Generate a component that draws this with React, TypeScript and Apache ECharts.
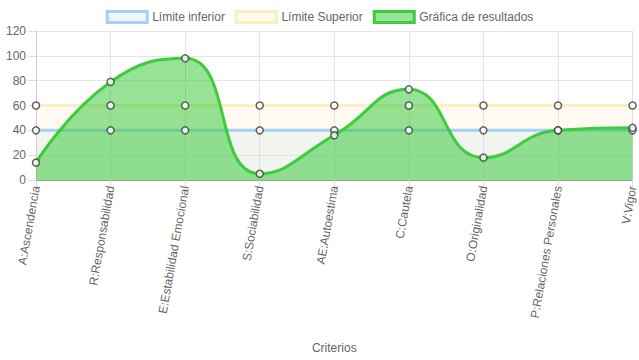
import React, { useEffect, useRef } from "react";
import * as echarts from "echarts";

const categories = [
  "A:Ascendencia",
  "R:Responsabilidad",
  "E:Estabilidad Emocional",
  "S:Sociabilidad",
  "AE:Autoestima",
  "C:Cautela",
  "O:Originalidad",
  "P:Relaciones Personales",
  "V:Vigor",
];
const lowerLimit = [40, 40, 40, 40, 40, 40, 40, 40, 40];
const upperLimit = [60, 60, 60, 60, 60, 60, 60, 60, 60];
const results = [14, 79, 98, 5, 36, 73, 18, 40, 42];
const seriesNames = ["Límite inferior", "Límite Superior", "Gráfica de resultados"];

const FONT = "'Liberation Sans', Arial, Helvetica, sans-serif";

export default function App() {
  const ref = useRef<HTMLDivElement>(null);
  useEffect(() => {
    if (!ref.current) return;
    const chart = echarts.init(ref.current, undefined, { renderer: "svg" });
    const pointStyle = {
      color: "#ffffff",
      borderColor: "#3a3a3a",
      borderWidth: 1.5,
    };
    const scatter = (data: number[]) => ({
      type: "scatter",
      data,
      symbol: "circle",
      symbolSize: 7,
      itemStyle: pointStyle,
      z: 10,
      silent: true,
      legendHoverLink: false,
    });
    chart.setOption({
      animation: false,
      textStyle: { fontFamily: FONT },
      legend: {
        top: 5,
        left: "center",
        itemWidth: 40,
        itemHeight: 11,
        itemGap: 10,
        icon: "rect",
        textStyle: { color: "#666", fontSize: 12, fontFamily: FONT },
        data: [
          {
            name: seriesNames[0],
            itemStyle: { color: "#eef6fd", borderColor: "#a6d0f3", borderWidth: 3 },
          },
          {
            name: seriesNames[1],
            itemStyle: { color: "#fffaee", borderColor: "#fbefbd", borderWidth: 3 },
          },
          {
            name: seriesNames[2],
            itemStyle: { color: "#98e39a", borderColor: "#3ccc3c", borderWidth: 3 },
          },
        ],
      },
      grid: { left: 36, right: 4, top: 31, bottom: 180 },
      xAxis: {
        type: "category",
        data: categories,
        boundaryGap: false,
        name: "Criterios",
        nameLocation: "middle",
        nameGap: 162,
        nameTextStyle: { color: "#666", fontSize: 12, fontFamily: FONT },
        axisLine: { lineStyle: { color: "#999" } },
        axisTick: { show: true, length: 8, lineStyle: { color: "#ddd" } },
        axisLabel: { rotate: 80, color: "#666", fontSize: 12, margin: 6, fontFamily: FONT },
        splitLine: { show: true, lineStyle: { color: "#e3e3e3" } },
      },
      yAxis: {
        type: "value",
        min: 0,
        max: 120,
        interval: 20,
        axisLine: { show: true, lineStyle: { color: "#ccc" } },
        axisTick: { show: true, length: 8, lineStyle: { color: "#ddd" } },
        axisLabel: { color: "#666", fontSize: 12, margin: 10, fontFamily: FONT },
        splitLine: { show: true, lineStyle: { color: "#e6e6e6" } },
      },
      series: [
        {
          name: seriesNames[1],
          type: "line",
          data: upperLimit,
          showSymbol: false,
          lineStyle: { color: "#fbefbd", width: 3 },
          itemStyle: { color: "#fbefbd" },
          areaStyle: { color: "rgba(255,206,86,0.08)", opacity: 1 },
          z: 2,
        },
        {
          name: seriesNames[1] === "" ? "" : seriesNames[0],
          type: "line",
          data: lowerLimit,
          showSymbol: false,
          lineStyle: { color: "#a6d0f3", width: 3 },
          itemStyle: { color: "#a6d0f3" },
          areaStyle: { color: "rgba(200,225,230,0.25)", opacity: 1 },
          z: 3,
        },
        {
          name: seriesNames[2],
          type: "line",
          data: results,
          smooth: 0.5,
          showSymbol: false,
          lineStyle: { color: "#3ccc3c", width: 3 },
          itemStyle: { color: "#3ccc3c" },
          areaStyle: { color: "rgba(45,200,48,0.5)", opacity: 1 },
          z: 4,
        },
        scatter(upperLimit),
        scatter(lowerLimit),
        scatter(results),
      ],
    });
    return () => chart.dispose();
  }, []);
  return (
    <div
      ref={ref}
      style={{ position: "fixed", left: 0, top: 0, width: 639, height: 360, background: "#fff" }}
    />
  );
}
